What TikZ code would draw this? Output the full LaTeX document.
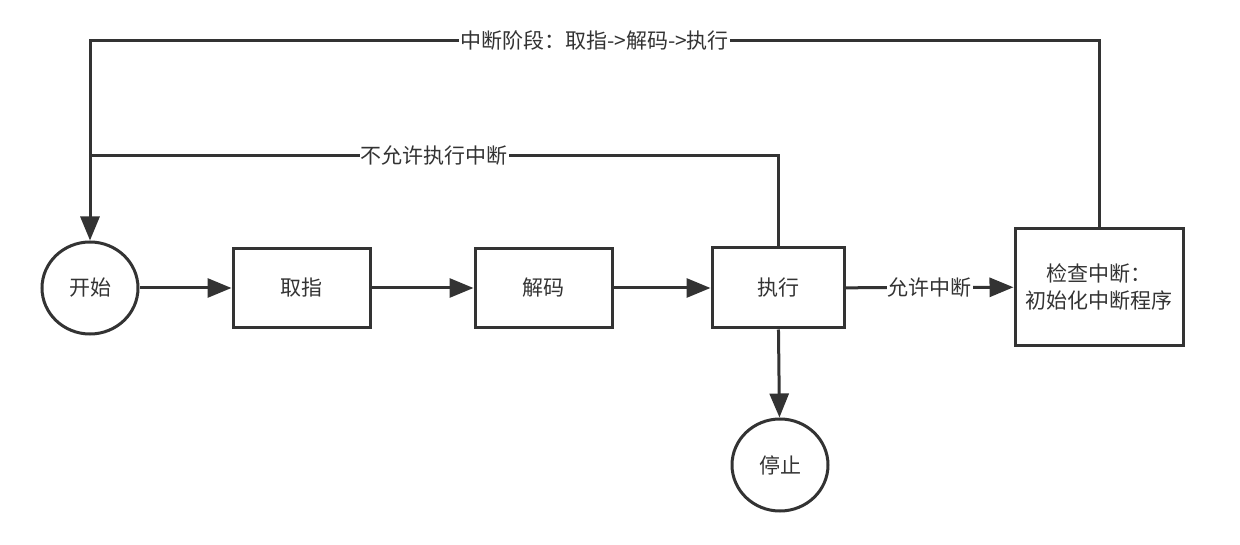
\documentclass[tikz,border=0pt]{standalone}
\usepackage{fontspec}
\setmainfont{Noto Sans CJK SC}
\usetikzlibrary{arrows.meta,shapes.geometric}
\definecolor{ink}{HTML}{333333}
\tikzset{
  stepbox/.style={draw=ink,line width=3pt,minimum width=137pt,minimum height=79pt,inner sep=0pt},
  termnode/.style={ellipse,draw=ink,line width=3pt,minimum width=96pt,minimum height=92pt,inner sep=0pt},
  flow/.style={draw=ink,line width=3pt},
  flowarrow/.style={flow,-{Triangle[length=24pt,width=19pt]}},
  linelabel/.style={fill=white,inner sep=1pt,text=ink}
}
\begin{document}
\begin{tikzpicture}[x=1pt,y=-1pt,font=\fontsize{21}{26}\selectfont,text=ink]
\useasboundingbox (0,0) rectangle (1240,545);
			\node[termnode] (start) at (90,288) {开始};
			\node[stepbox] (fetch) at (301.5,288) {取指};
			\node[stepbox] (decode) at (543.5,288) {解码};
			\node[stepbox,minimum width=132pt,minimum height=80pt] (exec) at (778,288) {执行};
			\node[stepbox,minimum width=168pt,minimum height=117pt,align=center] (check) at (1099,287) {检查中断：\\初始化中断程序};
			\node[termnode] (stop) at (780,465) {停止};
			\coordinate (topleft) at (90,41);
			\coordinate (midleft) at (90,156);
			\draw[flowarrow] (start) -- (fetch);
			\draw[flowarrow] (fetch) -- (decode);
			\draw[flowarrow] (decode) -- (exec);
			\draw[flowarrow] (exec) -- node[linelabel]{允许中断} (check);
			\draw[flowarrow] (exec) -- (stop);
			\draw[flow] (exec.north) |- node[linelabel,pos=0.75]{不允许执行中断} (midleft);
			\draw[flowarrow] (check.north) |- node[linelabel,pos=0.75]{中断阶段：取指->解码->执行} (topleft) -- (start);
			\end{tikzpicture}
\end{document}
